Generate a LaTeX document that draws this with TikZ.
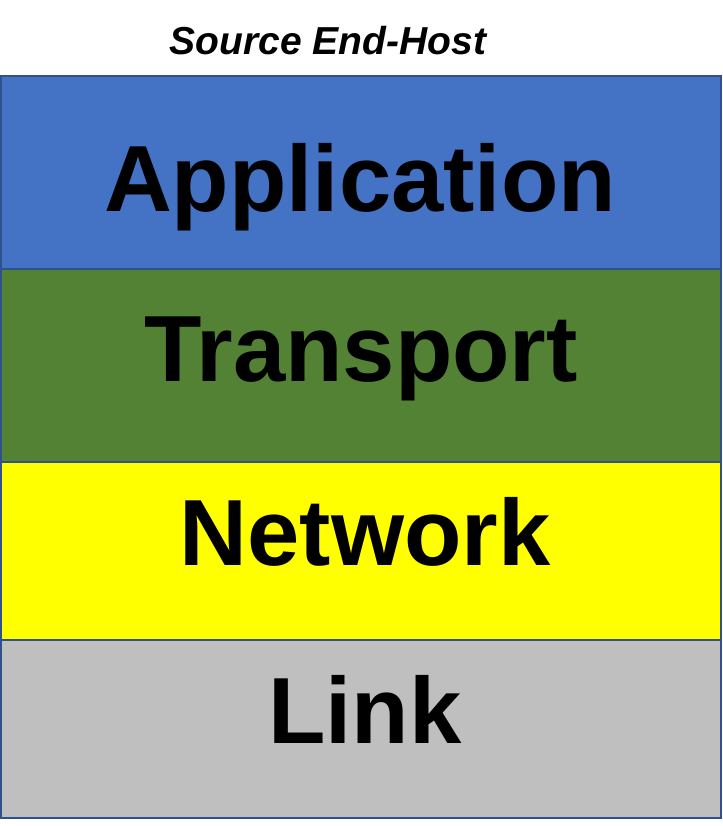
\documentclass[tikz,border=0pt]{standalone}
\usepackage{fontspec}
\setmainfont{Liberation Sans}
\usetikzlibrary{positioning}
\definecolor{appblue}{HTML}{4472C4}
\definecolor{trgreen}{HTML}{548235}
\definecolor{netyellow}{HTML}{FFFF00}
\definecolor{linkgray}{HTML}{BFBFBF}
\definecolor{edgeblue}{HTML}{2F528F}

\begin{document}
\begin{tikzpicture}[x=0.5pt, y=-0.5pt,
  layer/.style={draw=edgeblue, line width=1pt, fill=#1, inner sep=0pt, outer sep=0pt,
    minimum width=360pt},
  lname/.style={anchor=base, font=\fontsize{47}{50}\selectfont\bfseries, inner sep=0pt}]
  \useasboundingbox (0,0) rectangle (723,826);
  % protocol stack, top to bottom
  \node[layer=appblue, anchor=north west, minimum height=96.5pt] (app) at (1,76) {};
  \node[layer=trgreen, below=0pt of app, minimum height=96.5pt] (tr) {};
  \node[layer=netyellow, below=0pt of tr, minimum height=89pt] (net) {};
  \node[layer=linkgray, below=0pt of net, minimum height=89pt] (lnk) {};
  % layer names
  \node[lname] (appname) at (360,211) {Application};
  \node[lname] (trname) at (361,381) {Transport};
  \node[lname] (netname) at (365,565) {Network};
  \node[lname] (lnkname) at (365,743) {Link};
  % host title
  \node[anchor=base, font=\fontsize{19.5}{22}\selectfont\bfseries\itshape, inner sep=0pt]
    (host) at (328,54) {Source End-Host};
\end{tikzpicture}
\end{document}
